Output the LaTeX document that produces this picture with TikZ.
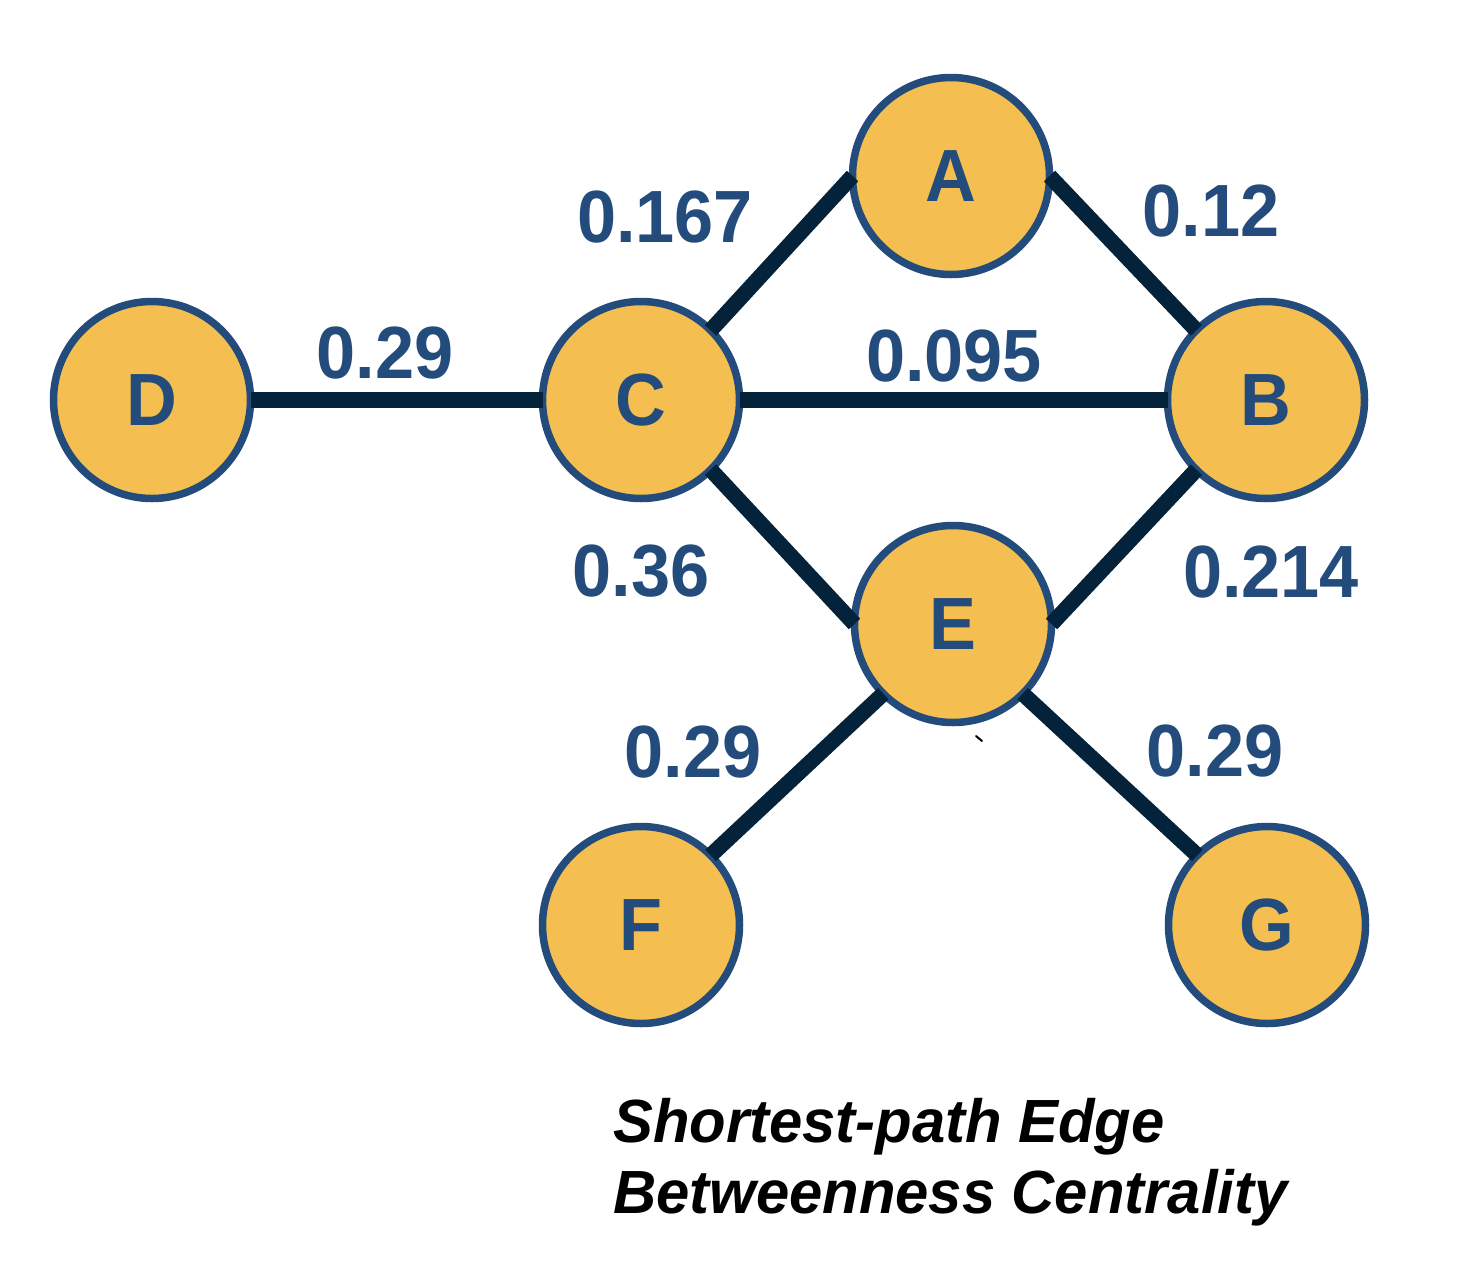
\documentclass[tikz,border=0pt]{standalone}
\usepackage{fontspec}
\newfontfamily\labfont[FakeStretch=0.95]{Liberation Sans}
\newfontfamily\titfont[FakeStretch=0.98]{Liberation Sans}
\definecolor{nodefill}{HTML}{F4BF50}
\definecolor{navy}{HTML}{234B7B}
\definecolor{edgecol}{HTML}{04233A}
\tikzset{
  vertex/.style={circle, draw=navy, fill=nodefill, line width=7.5pt,
    minimum size=197pt, inner sep=0pt, outer sep=0pt, text=navy,
    font=\labfont\bfseries\fontsize{74}{80}\selectfont},
  link/.style={draw=edgecol, line width=15.5pt, line cap=butt},
  weight/.style={anchor=base, inner sep=0pt, text=navy,
    font=\labfont\bfseries\fontsize{74}{80}\selectfont},
  caption/.style={anchor=base west, inner sep=0pt, text=black,
    font=\titfont\bfseries\itshape\fontsize{61}{70}\selectfont}
}
\begin{document}
\begin{tikzpicture}[x=1pt, y=-1pt]
\useasboundingbox (0,0) rectangle (1484,1278);
\fill[white] (0,0) rectangle (1484,1278);
% vertices
\node[vertex] (A) at (951,176) {A};
\node[vertex] (B) at (1266,400) {B};
\node[vertex] (C) at (641,400) {C};
\node[vertex] (D) at (152,400) {D};
\node[vertex] (E) at (953,624) {E};
\node[vertex] (F) at (641,925) {F};
\node[vertex] (G) at (1267,925) {G};
% edges
\draw[link] (D.east) -- (C.west);
\draw[link] (C.east) -- (B.west);
\draw[link] (C.north east) -- (A.west);
\draw[link] (A.east) -- (B.north west);
\draw[link] (C.south east) -- (E.west);
\draw[link] (E.east) -- (B.south west);
\draw[link] (E.south west) -- (F.north east);
\draw[link] (E.south east) -- (G.north west);
% edge weights
\node[weight] (wCA) at (665,242) {0.167};
\node[weight] (wAB) at (1211,236) {0.12};
\node[weight] (wDC) at (385,378) {0.29};
\node[weight] (wCB) at (954,381) {0.095};
\node[weight] (wCE) at (641,596) {0.36};
\node[weight] (wEB) at (1271,597) {0.214};
\node[weight] (wEF) at (693,777) {0.29};
\node[weight] (wEG) at (1215,776) {0.29};
% stray mark
\draw[black, line width=2pt, line cap=round] (976,736) -- (982,741);
% caption
\node[caption] (cap1) at (613,1142) {Shortest-path Edge};
\node[caption] (cap2) at (613,1213) {Betweenness Centrality};
\end{tikzpicture}
\end{document}
